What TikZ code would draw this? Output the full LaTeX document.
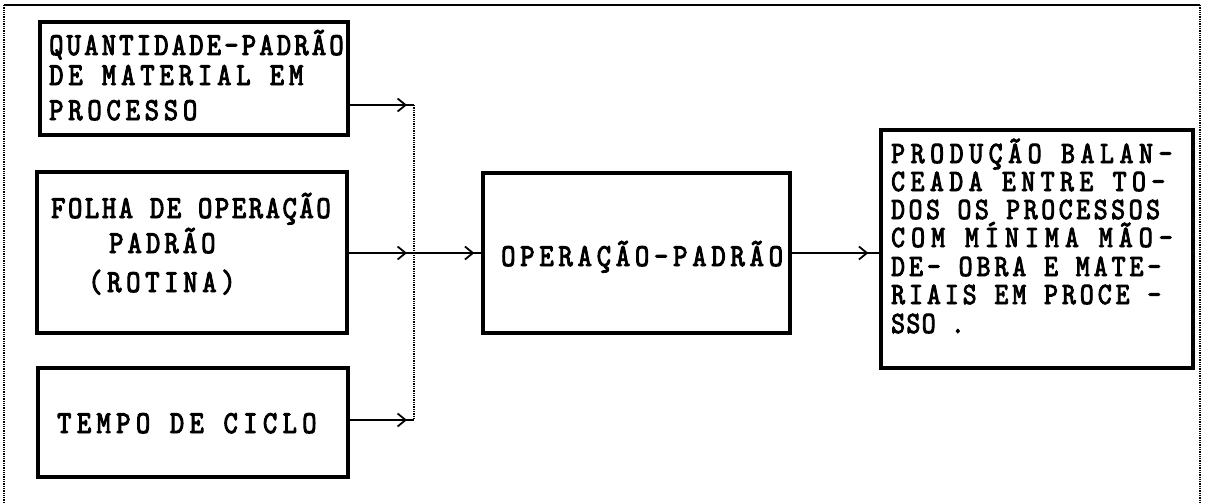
\documentclass[tikz,border=0pt]{standalone}
\usepackage{fontspec}
\usetikzlibrary{arrows.meta,decorations.markings}
% typewriter-like capitals for all box texts
\newfontfamily\dotf{lmmono10-regular.otf}[FakeBold=3,FakeStretch=0.85]
\newcommand\lsline[2]{{\addfontfeature{LetterSpace=#1}#2}}
\tikzset{
  box/.style={draw, line width=3.3pt, inner sep=0pt},
  txt/.style={anchor=base west, inner sep=0pt, text height=19pt, text depth=0pt,
    font=\dotf\fontsize{32}{32}\selectfont},
  txtsm/.style={txt, text height=18pt, font=\dotf\fontsize{31}{31}\selectfont},
  conn/.style={line width=1.8pt, postaction={decorate},
    decoration={markings, mark=at position -7pt with {\arrow{Straight Barb[length=8pt,width=13pt,line width=1.8pt]}}}},
  connfar/.style={line width=1.8pt, postaction={decorate},
    decoration={markings, mark=at position -11pt with {\arrow{Straight Barb[length=8pt,width=13pt,line width=1.8pt]}}}},
  bus/.style={line width=1.3pt, densely dotted},
  frameside/.style={line width=1.3pt, densely dotted},
  frametop/.style={line width=1.8pt}
}
\begin{document}
\begin{tikzpicture}[x=1pt,y=-1pt]
\useasboundingbox (0,0) rectangle (1206,503);

% outer frame (open at the bottom)
\coordinate (fbl) at (4,503);
\coordinate (ftl) at (4,5);
\coordinate (ftr) at (1200,5);
\coordinate (fbr) at (1200,503);
\draw[frametop] (ftl) -- (ftr);
\draw[frameside] (fbl) -- (ftl);
\draw[frameside] (ftr) -- (fbr);

% input boxes
\node[box, minimum width=308pt, minimum height=113pt] (b1) at (194,78.5) {};
\node[box, minimum width=310pt, minimum height=161pt] (b2) at (192,252.5) {};
\node[box, minimum width=310pt, minimum height=109pt] (b3) at (193,422.5) {};
% central and result boxes
\node[box, minimum width=307pt, minimum height=160pt] (op) at (636.5,253) {};
\node[box, minimum width=312pt, minimum height=238pt] (prod) at (1037,249) {};

% texts
\node[txt] (t1a) at (49,55) {\lsline{10.1}{QUANTIDADE-PADRÃO}};
\node[txt] (t1b) at (49,85) {\lsline{15.4}{DE MATERIAL EM}};
\node[txt] (t1c) at (49,120) {\lsline{15.1}{PROCESSO}};

\node[txt] (t2a) at (51,218) {\lsline{8.2}{FOLHA DE OPERAÇÃO}};
\node[txt] (t2b) at (109,253) {\lsline{12.9}{PADRÃO}};
\node[txt] (t2c) at (88,292) {\lsline{14.8}{(ROTINA)}};

\node[txt] (t3) at (57,433) {\lsline{16.9}{TEMPO DE CICLO}};

\node[txt] (top) at (501,266) {\lsline{15.1}{OPERAÇÃO-PADRÃO}};

\node[txtsm] (p1) at (891,163) {\lsline{18.3}{PRODUÇÃO BALAN-}};
\node[txtsm] (p2) at (891,191) {\lsline{17.9}{CEADA ENTRE TO-}};
\node[txtsm] (p3) at (891,219) {\lsline{11.8}{DOS OS PROCESSOS}};
\node[txtsm] (p4) at (891,247) {\lsline{19.9}{COM MÍNIMA MÃO-}};
\node[txtsm] (p5) at (891,276) {\lsline{13.1}{DE- OBRA E MATE-}};
\node[txtsm] (p6) at (891,304) {\lsline{13.1}{RIAIS EM PROCE -}};
\node[txtsm] (p7) at (891,333) {\lsline{4.7}{SSO .}};

% collecting bus
\coordinate (c1) at (414,105);
\coordinate (c2) at (414,253);
\coordinate (c3) at (414,420);
\draw[bus] (c1) -- (c3);

% connectors
\draw[conn] (b1.east |- c1) -- (c1);
\draw[conn] (b2.east |- c2) -- (c2);
\draw[conn] (b3.east |- c3) -- (c3);
\draw[conn] (c2) -- (op.west);
\draw[connfar] (op.east) -- (op.east -| prod.west);
\end{tikzpicture}
\end{document}
